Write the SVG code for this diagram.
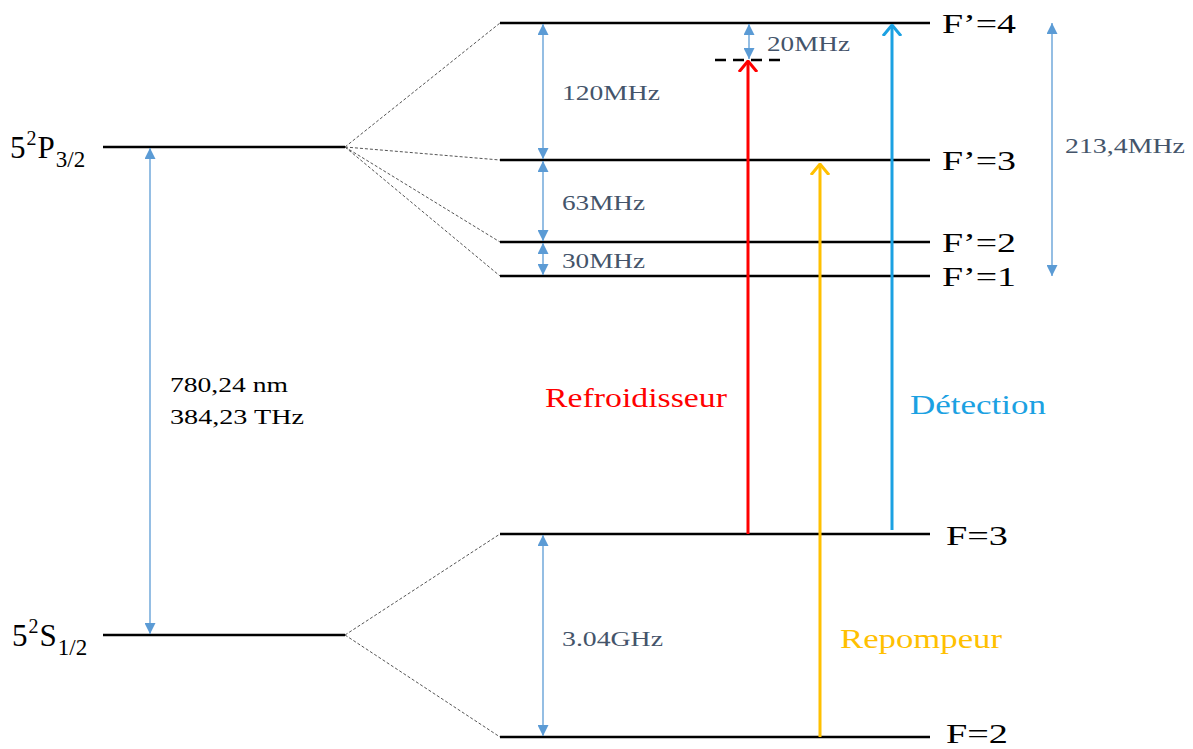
<svg xmlns="http://www.w3.org/2000/svg" width="1193" height="749" viewBox="0 0 1193 749">
<style>
text{font-family:"Liberation Serif","DejaVu Serif",serif;}
.lvl{stroke:#000;stroke-width:2.6;fill:none;}
.dash{stroke:#555;stroke-width:1;stroke-dasharray:3,2;fill:none;}
.dim{stroke:#5b9bd5;stroke-width:1.3;fill:none;marker-start:url(#tri);marker-end:url(#tri);}
.lab{font-size:22px;fill:#44546a;}
.blk{font-size:22px;fill:#000;}
.flab{font-size:28px;fill:#000;}
.big{font-size:31px;fill:#000;}
</style>
<defs>
<marker id="tri" viewBox="0 0 10 10" refX="10" refY="5" markerWidth="11" markerHeight="11" markerUnits="userSpaceOnUse" orient="auto-start-reverse">
<path d="M0,0 L10,5 L0,10 z" fill="#5b9bd5"/>
</marker>
<marker id="chR" viewBox="0 0 12 20" refX="11" refY="10" markerWidth="12" markerHeight="20" markerUnits="userSpaceOnUse" orient="auto">
<path d="M0,1 L11,10 L0,19" fill="none" stroke="#ff0000" stroke-width="3"/>
</marker>
<marker id="chY" viewBox="0 0 12 20" refX="11" refY="10" markerWidth="12" markerHeight="20" markerUnits="userSpaceOnUse" orient="auto">
<path d="M0,1 L11,10 L0,19" fill="none" stroke="#ffc000" stroke-width="3"/>
</marker>
<marker id="chB" viewBox="0 0 12 20" refX="11" refY="10" markerWidth="12" markerHeight="20" markerUnits="userSpaceOnUse" orient="auto">
<path d="M0,1 L11,10 L0,19" fill="none" stroke="#1ba1e2" stroke-width="3"/>
</marker>
</defs>
<rect width="1193" height="749" fill="#fff"/>

<g id="P32">
<line class="lvl" x1="103" y1="147" x2="345" y2="147"/>
<text class="big" x="10" y="158">5<tspan font-size="20" dy="-13" dx="1">2</tspan><tspan dy="13" dx="1">P</tspan><tspan font-size="23" dy="9" dx="1">3/2</tspan></text>
</g>
<g id="S12">
<line class="lvl" x1="103" y1="635" x2="345" y2="635"/>
<text class="big" x="12" y="646">5<tspan font-size="20" dy="-13" dx="1">2</tspan><tspan dy="13" dx="1">S</tspan><tspan font-size="23" dy="9" dx="1">1/2</tspan></text>
</g>
<g id="Fp4">
<line class="lvl" x1="500" y1="23" x2="930" y2="23"/>
<text class="flab" x="942" y="33" textLength="74" lengthAdjust="spacingAndGlyphs">F’=4</text>
</g>
<g id="Fp3">
<line class="lvl" x1="500" y1="160" x2="930" y2="160"/>
<text class="flab" x="942" y="170" textLength="74" lengthAdjust="spacingAndGlyphs">F’=3</text>
</g>
<g id="Fp2">
<line class="lvl" x1="500" y1="242" x2="930" y2="242"/>
<text class="flab" x="942" y="252" textLength="74" lengthAdjust="spacingAndGlyphs">F’=2</text>
</g>
<g id="Fp1">
<line class="lvl" x1="500" y1="276" x2="930" y2="276"/>
<text class="flab" x="942" y="286" textLength="74" lengthAdjust="spacingAndGlyphs">F’=1</text>
</g>
<g id="F3">
<line class="lvl" x1="500" y1="534" x2="930" y2="534"/>
<text class="flab" x="946" y="545" textLength="62" lengthAdjust="spacingAndGlyphs">F=3</text>
</g>
<g id="F2">
<line class="lvl" x1="500" y1="737" x2="930" y2="737"/>
<text class="flab" x="946" y="743" font-size="26" textLength="62" lengthAdjust="spacingAndGlyphs">F=2</text>
</g>
<g id="virtual">
<line x1="715" y1="60" x2="782" y2="60" stroke="#000" stroke-width="2.4" stroke-dasharray="11,7"/>
</g>

<g id="connectors">
<line class="dash" x1="345" y1="147" x2="500" y2="23"/>
<line class="dash" x1="345" y1="147" x2="500" y2="160"/>
<line class="dash" x1="345" y1="147" x2="500" y2="242"/>
<line class="dash" x1="345" y1="147" x2="500" y2="276"/>
<line class="dash" x1="345" y1="635" x2="500" y2="534"/>
<line class="dash" x1="345" y1="635" x2="500" y2="737"/>

<line class="dim" x1="150" y1="148" x2="150" y2="634"/>
<line class="dim" x1="543" y1="24" x2="543" y2="159"/>
<line class="dim" x1="543" y1="161" x2="543" y2="241"/>
<line class="dim" x1="543" y1="243" x2="543" y2="275"/>
<line class="dim" x1="543" y1="535" x2="543" y2="736"/>
<line class="dim" x1="749" y1="24" x2="749" y2="59"/>
<line class="dim" x1="1052" y1="23" x2="1052" y2="276"/>

<line x1="748" y1="534" x2="748" y2="61" stroke="#ff0000" stroke-width="3" marker-end="url(#chR)"/>
<line x1="820" y1="737" x2="820" y2="164" stroke="#ffc000" stroke-width="3" marker-end="url(#chY)"/>
<line x1="892" y1="530" x2="892" y2="25" stroke="#1ba1e2" stroke-width="3" marker-end="url(#chB)"/>
</g>

<g id="labels">
<text class="lab" x="562" y="100" textLength="98" lengthAdjust="spacingAndGlyphs">120MHz</text>
<text class="lab" x="562" y="210" textLength="83" lengthAdjust="spacingAndGlyphs">63MHz</text>
<text class="lab" x="562" y="268" textLength="83" lengthAdjust="spacingAndGlyphs">30MHz</text>
<text class="lab" x="767" y="51" textLength="83" lengthAdjust="spacingAndGlyphs">20MHz</text>
<text class="lab" x="1065" y="153" textLength="120" lengthAdjust="spacingAndGlyphs">213,4MHz</text>
<text class="lab" x="562" y="646" textLength="101" lengthAdjust="spacingAndGlyphs">3.04GHz</text>
<text class="blk" x="170" y="392" textLength="118" lengthAdjust="spacingAndGlyphs">780,24 nm</text>
<text class="blk" x="170" y="424" textLength="134" lengthAdjust="spacingAndGlyphs">384,23 THz</text>
<text x="545" y="407" font-size="28" fill="#ff0000" textLength="182" lengthAdjust="spacingAndGlyphs">Refroidisseur</text>
<text x="910" y="414" font-size="28" fill="#1ba1e2" textLength="136" lengthAdjust="spacingAndGlyphs">Détection</text>
<text x="840" y="648" font-size="28" fill="#ffc000" textLength="162" lengthAdjust="spacingAndGlyphs">Repompeur</text>
</g>
</svg>
